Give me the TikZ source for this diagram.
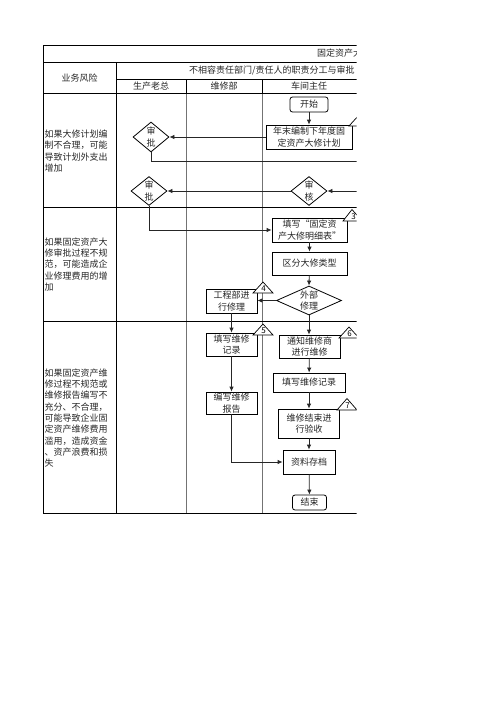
\documentclass[tikz,border=0pt]{standalone}
\usepackage{fontspec}
\newfontfamily\cjk{Noto Sans CJK SC}
\usetikzlibrary{arrows.meta,shapes.geometric}
\begin{document}
\begin{tikzpicture}[x=1pt,y=-1pt,
  every node/.style={font=\cjk\fontsize{9}{11.3}\selectfont, inner sep=0pt, text=black!85},
  proc/.style={draw=black, line width=0.8pt, align=center, fill=white},
  term/.style={draw=black, line width=0.8pt, rounded corners=2.5pt, align=center, fill=white},
  dia/.style={draw=black, line width=0.8pt, diamond, fill=white},
  tab/.style={draw=black, line width=0.9pt},
  lane/.style={draw=black!55, line width=0.5pt},
  conn/.style={draw=black!85, line width=0.8pt},
  arr/.style={conn, -{Latex[length=5pt,width=4.5pt]}},
  tri/.style={draw=black, line width=0.7pt, fill=white},
  num/.style={font=\cjk\fontsize{8}{8}\selectfont, text=black}
]
\useasboundingbox (0,0) rectangle (496,702);
\begin{scope}
\clip (0,0) rectangle (356.5,702);
% lane lines
\draw[lane] (186,93) -- (186,513);
\draw[lane] (262,93) -- (262,513);
% table
\draw[tab] (43,45) -- (370,45);
\draw[tab] (43,62) -- (370,62);
\draw[tab] (116,79) -- (370,79);
\draw[tab] (43,93) -- (370,93);
\draw[tab] (43,207) -- (370,207);
\draw[tab] (43,321) -- (370,321);
\draw[tab] (43,513) -- (370,513);
\draw[tab] (43,45) -- (43,513);
\draw[tab] (116,62) -- (116,513);
\draw[tab] (186,79) -- (186,93);
\draw[tab] (262,79) -- (262,93);
% header texts
\node[anchor=west] (title) at (317,53.5) {固定资产大};
\node[anchor=west] (sub) at (189,70.5) {不相容责任部门/责任人的职责分工与审批};
\node (h0) at (79.5,78) {业务风险};
\node (h1) at (151,86) {生产老总};
\node (h2) at (224,86) {维修部};
\node (h3) at (309,86) {车间主任};
% risk texts
\node[anchor=west, align=left] (r1) at (44.5,151) {如果大修计划编\\制不合理，可能\\导致计划外支出\\增加};
\node[anchor=west, align=left] (r2) at (44.5,264.5) {如果固定资产大\\修审批过程不规\\范，可能造成企\\业修理费用的增\\加};
\node[anchor=west, align=left] (r3) at (44.5,418) {如果固定资产维\\修过程不规范或\\维修报告编写不\\充分、不合理，\\可能导致企业固\\定资产维修费用\\滥用，造成资金\\、资产浪费和损\\失};
% flow nodes
\node[term, minimum width=38pt, minimum height=15pt] (start) at (309,104.5) {开始};
\node[proc, minimum width=86pt, minimum height=24pt] (plan) at (309,137) {年末编制下年度固\\定资产大修计划};
\node[dia, minimum width=36pt, minimum height=30pt] (ap1) at (151,137) {};
\node[align=center] (ap1t) at (ap1) {审\\批};
\node[dia, minimum width=36pt, minimum height=29pt] (ap2) at (149,191) {};
\node[align=center] (ap2t) at (ap2) {审\\批};
\node[dia, minimum width=36pt, minimum height=29pt] (chk) at (309,191) {};
\node[align=center] (chkt) at (chk) {审\\核};
\node[proc, minimum width=75pt, minimum height=24pt] (detail) at (309.5,230) {填写“固定资\\产大修明细表”};
\node[proc, minimum width=75pt, minimum height=23pt] (kind) at (309.5,263.5) {区分大修类型};
\node[dia, minimum width=65pt, minimum height=29pt] (ext) at (309,300.5) {};
\node[align=center] (extt) at (ext) {外部\\修理};
\node[proc, minimum width=51pt, minimum height=24pt] (eng) at (231.5,301) {工程部进\\行修理};
\node[proc, minimum width=51pt, minimum height=23pt] (recL) at (231.5,344.5) {填写维修\\记录};
\node[proc, minimum width=51pt, minimum height=22pt] (rep) at (231.5,403) {编写维修\\报告};
\node[proc, minimum width=61pt, minimum height=23pt] (notify) at (309.5,346.5) {通知维修商\\进行维修};
\node[proc, minimum width=72pt, minimum height=19pt] (recR) at (309,382.5) {填写维修记录};
\node[proc, minimum width=61pt, minimum height=29pt] (acc) at (309,423.5) {维修结束进\\行验收};
\node[proc, minimum width=52pt, minimum height=24pt] (arch) at (309,462) {资料存档};
\node[term, minimum width=34pt, minimum height=15pt] (end) at (309.5,502.5) {结束};
\coordinate (out1) at (370,161);
\coordinate (out2) at (370,191);
% connectors
\draw[arr] (start) -- (plan);
\draw[arr] (plan.west) -- (ap1.east);
\draw[conn] (ap1.south) |- (out1);
\draw[arr] (out2) -- (chk.east);
\draw[arr] (chk.west) -- (ap2.east);
\draw[arr] (ap2.south) |- (detail.west);
\draw[arr] (detail) -- (kind);
\draw[arr] (kind) -- (ext.north);
\draw[arr] (ext.west) -- (eng.east |- ext.west);
\draw[arr] (ext.south) -- (ext.south |- notify.north);
\draw[arr] (eng) -- (recL);
\draw[arr] (recL) -- (rep);
\draw[arr] (rep.south) |- (arch.west);
\draw[arr] (notify) -- (recR);
\draw[arr] (recR) -- (acc);
\draw[arr] (acc) -- (arch);
\draw[arr] (arch) -- (end);
% control point triangles
\draw[tri] (349,126) -- (359,115) -- (369,126) -- cycle;
\node[num] (n2) at (360,121.5) {2};
\draw[tri] (343,221) -- (352,209.5) -- (362,221) -- cycle;
\node[num] (n3) at (353.5,216.5) {3};
\draw[tri] (253,293) -- (263,282) -- (273,293) -- cycle;
\node[num] (n4) at (263.5,288.5) {4};
\draw[tri] (253,335) -- (263,324) -- (273,335) -- cycle;
\node[num] (n5) at (263.5,330.5) {5};
\draw[tri] (339,338) -- (349,327) -- (359,338) -- cycle;
\node[num] (n6) at (349.5,333.5) {6};
\draw[tri] (337,410) -- (347,398.5) -- (357,410) -- cycle;
\node[num] (n7) at (347.5,405.5) {7};
\end{scope}
\end{tikzpicture}
\end{document}
